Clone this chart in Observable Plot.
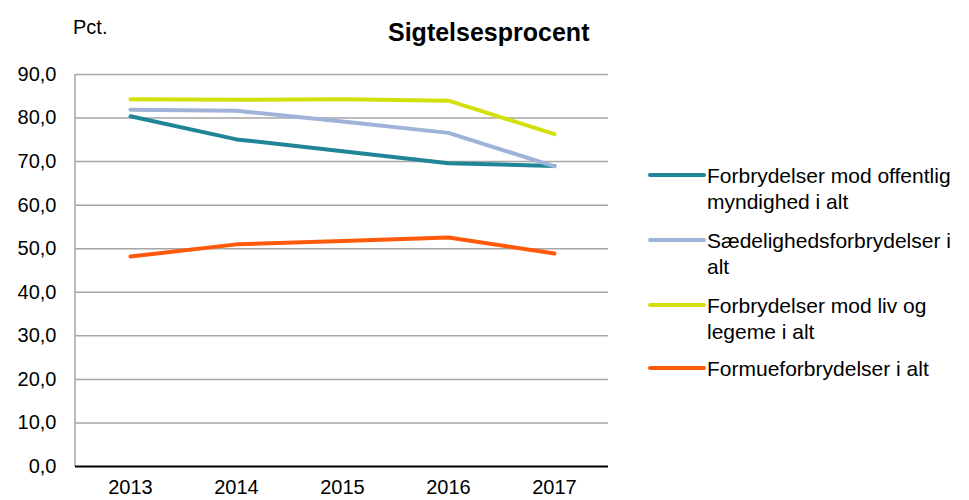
<!DOCTYPE html>
<html>
<head>
<meta charset="utf-8">
<script src="https://cdn.jsdelivr.net/npm/d3@7"></script>
<script src="https://cdn.jsdelivr.net/npm/@observablehq/plot@0.6"></script>
<style>
  html, body { margin: 0; padding: 0; background: #fff; }
  #wrap { position: relative; width: 969px; height: 500px; font-family: "Liberation Sans", Arial, sans-serif; color: #000; }
  #wrap svg g[aria-label*="tick label"] { font-size: 20px; }
  #title { position: absolute; left: 388px; top: 18px; font-size: 25px; font-weight: bold; white-space: nowrap; }
  #unit { position: absolute; left: 73px; top: 16px; font-size: 20px; }
  #legend { position: absolute; left: 648px; top: 0; }
  .item { position: absolute; left: 0; display: flex; align-items: flex-start; width: 320px; }
  .swatch { width: 58px; height: 4px; border-radius: 2px; margin-top: 10px; flex: none; }
  .lab { font-size: 21px; line-height: 26px; margin-left: 1px; white-space: nowrap; }
</style>
</head>
<body>
<div id="wrap">
  <div id="unit">Pct.</div>
  <div id="title">Sigtelsesprocent</div>
  <div id="legend"></div>
</div>
<script>
const years = ["2013", "2014", "2015", "2016", "2017"];
const seriesNames = [
  "Forbrydelser mod offentlig myndighed i alt",
  "Sædelighedsforbrydelser i alt",
  "Forbrydelser mod liv og legeme i alt",
  "Formueforbrydelser i alt"
];
const offentligMyndighed = [80.4, 75.1, 72.4, 69.6, 69.0];
const saedelighed = [81.9, 81.7, 79.2, 76.6, 68.9];
const livOgLegeme = [84.3, 84.2, 84.3, 84.0, 76.3];
const formue = [48.2, 51.0, 51.8, 52.6, 48.9];
const yTicks = [0, 10, 20, 30, 40, 50, 60, 70, 80, 90];
const colors = ["#1f8597", "#9fb3d8", "#d2e10b", "#ff5a0a"];

const allValues = [offentligMyndighed, saedelighed, livOgLegeme, formue];
const data = [];
allValues.forEach((vals, i) => {
  vals.forEach((v, j) => data.push({ series: seriesNames[i], year: years[j], value: v }));
});

const fmt = v => v.toFixed(1).replace(".", ",");

// left axis line drawn from the y scale
function leftAxisLine(index, scales, values, dimensions) {
  const g = d3.create("svg:line")
    .attr("x1", dimensions.marginLeft)
    .attr("x2", dimensions.marginLeft)
    .attr("y1", scales.y(yTicks[yTicks.length - 1]))
    .attr("y2", scales.y(0))
    .attr("stroke", "#a6a6a6")
    .attr("stroke-width", 1.5);
  return g.node();
}

const chart = Plot.plot({
  width: 969,
  height: 500,
  marginLeft: 75,
  marginRight: 361,
  marginTop: 74,
  marginBottom: 34,
  style: { fontFamily: "'Liberation Sans', Arial, sans-serif", fontSize: "20px", color: "#000", background: "transparent" },
  x: { type: "point", domain: years, padding: 0.5, label: null },
  y: { domain: [0, 90], label: null },
  color: { domain: seriesNames, range: colors },
  marks: [
    Plot.ruleY(yTicks.filter(d => d > 0), { stroke: "#a6a6a6", strokeWidth: 1.5, strokeOpacity: 1 }),
    leftAxisLine,
    Plot.axisY({ ticks: yTicks, tickFormat: fmt, tickSize: 0, tickPadding: 19 }),
    Plot.axisX({ tickSize: 0, tickPadding: 13 }),
    Plot.line(data, { x: "year", y: "value", z: "series", stroke: "series", strokeWidth: 4, strokeLinecap: "round", strokeLinejoin: "round" }),
    Plot.ruleY([0], { stroke: "#000", strokeWidth: 2 })
  ]
});
document.getElementById("wrap").prepend(chart);
chart.style.position = "absolute";
chart.style.left = "0";
chart.style.top = "0";

const legendTops = [163, 228, 293, 356];
const legendLines = [
  ["Forbrydelser mod offentlig", "myndighed i alt"],
  ["Sædelighedsforbrydelser i", "alt"],
  ["Forbrydelser mod liv og", "legeme i alt"],
  ["Formueforbrydelser i alt"]
];
const legend = document.getElementById("legend");
seriesNames.forEach((name, i) => {
  const item = document.createElement("div");
  item.className = "item";
  item.style.top = legendTops[i] + "px";
  const sw = document.createElement("div");
  sw.className = "swatch";
  sw.style.background = colors[i];
  const lab = document.createElement("div");
  lab.className = "lab";
  lab.innerHTML = legendLines[i].join("<br>");
  item.appendChild(sw);
  item.appendChild(lab);
  legend.appendChild(item);
});
</script>
</body>
</html>
